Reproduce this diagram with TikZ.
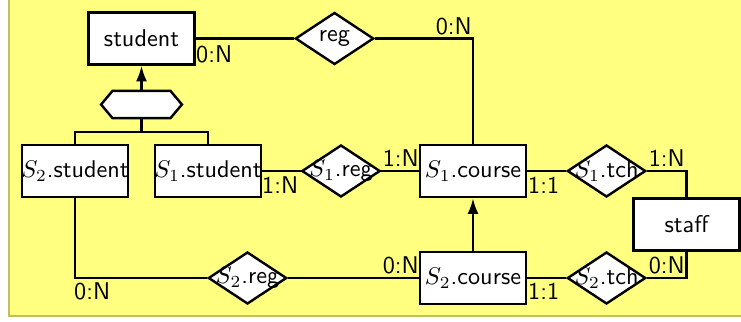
\documentclass[tikz,border=0pt]{standalone}
\usetikzlibrary{shapes.geometric,shapes.symbols,arrows.meta}
\definecolor{bgyellow}{RGB}{255,255,128}
\definecolor{bgborder}{RGB}{190,190,100}
\begin{document}
\begin{tikzpicture}[x=0.4132pt,y=-0.4132pt, font=\sffamily, line width=1pt,
  entity/.style={draw, fill=white, minimum width=43.8pt, minimum height=21.5pt, inner sep=0pt},
  rel/.style={draw, fill=white, diamond, minimum width=32.4pt, minimum height=21.5pt, inner sep=0pt},
  isabox/.style={draw, fill=white, signal, signal to=east and west, signal pointer angle=100, minimum width=33.4pt, minimum height=11.2pt, inner sep=0pt},
  card/.style={inner sep=0pt},
  isarrow/.style={-{Latex[length=6.5pt,width=4.6pt]}}]
\useasboundingbox (0,0) rectangle (741,321);
% background
\fill[bgyellow] (9,-20) rectangle (780,316);
\draw[bgborder, line width=1pt] (9,-20) -- (9,316) -- (780,316);
% nodes
\node[entity] (student) at (141.5,38.5) {student};
\node[rel] (reg) at (334.5,38.5) {\makebox[0pt]{reg}};
\node[isabox] (isa) at (141.5,104.5) {};
\coordinate (fork) at (141.5,132);
\node[entity] (s2student) at (75,171) {\makebox[0pt]{$S_2$.student}};
\node[entity] (s1student) at (208,171) {\makebox[0pt]{$S_1$.student}};
\node[rel] (s1reg) at (341,171) {\makebox[0pt]{$S_1$.reg}};
\node[entity] (s1course) at (473,171) {\makebox[0pt]{$S_1$.course}};
\node[rel] (s1tch) at (606.5,171) {\makebox[0pt]{$S_1$.tch}};
\node[entity] (staff) at (686.5,224.5) {staff};
\node[rel] (s2reg) at (247.5,278) {\makebox[0pt]{$S_2$.reg}};
\node[entity] (s2course) at (473,278) {\makebox[0pt]{$S_2$.course}};
\node[rel] (s2tch) at (606.5,278) {\makebox[0pt]{$S_2$.tch}};
% connectors
\draw (student.east) -- (reg.west);
\draw (reg.east) -| (s1course.north);
\draw[isarrow] (isa.north) -- (student.south);
\draw (isa.south) -- (fork);
\draw (s2student.north) |- (fork) -| (s1student.north);
\draw (s1student.east) -- (s1reg.west);
\draw (s1reg.east) -- (s1course.west);
\draw (s1course.east) -- (s1tch.west);
\draw (s1tch.east) -| (staff.north);
\draw[isarrow] (s2course.north) -- (s1course.south);
\draw (s2student.south) |- (s2reg.west);
\draw (s2reg.east) -- (s2course.west);
\draw (s2course.east) -- (s2tch.west);
\draw (s2tch.east) -| (staff.south);
% cardinalities
\node[card, anchor=base west] (c1) at (195,62) {0:N};
\node[card, anchor=base east] (c2) at (473,34) {0:N};
\node[card, anchor=base west] (c3) at (261,193) {1:N};
\node[card, anchor=base east] (c4) at (420,166) {1:N};
\node[card, anchor=base west] (c5) at (527,193) {1:1};
\node[card, anchor=base east] (c6) at (686,166) {1:N};
\node[card, anchor=base east] (c7) at (420,273) {0:N};
\node[card, anchor=base west] (c8) at (527,299) {1:1};
\node[card, anchor=base east] (c9) at (686,273) {0:N};
\node[card, anchor=base west] (c10) at (73,299) {0:N};
\end{tikzpicture}
\end{document}
